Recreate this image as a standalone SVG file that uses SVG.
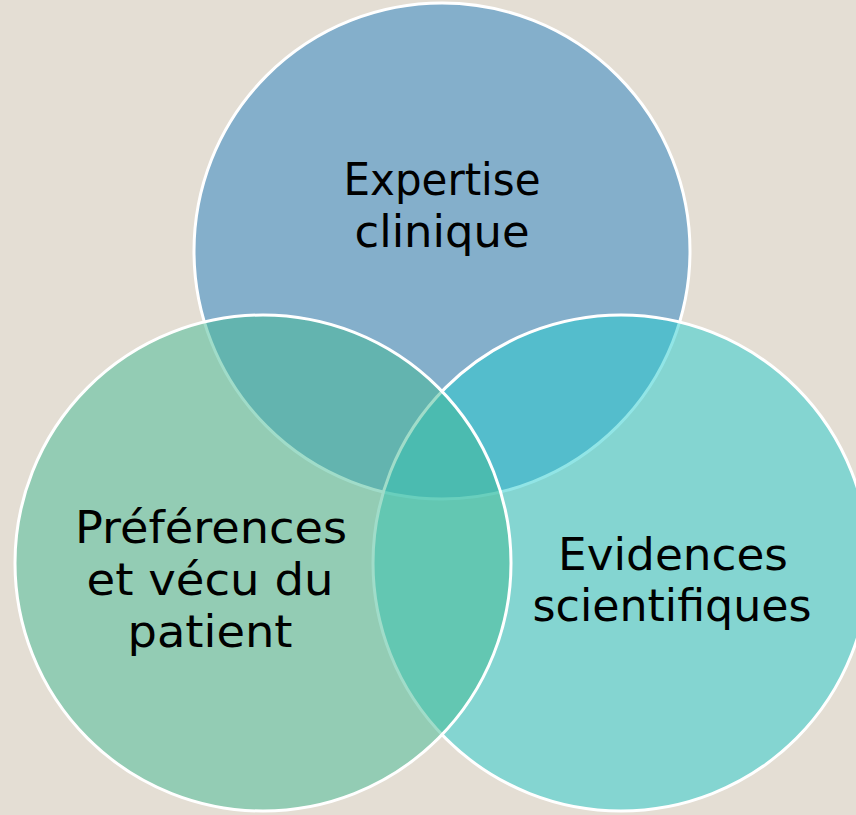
<svg xmlns="http://www.w3.org/2000/svg" width="856" height="815" viewBox="0 0 856 815">
  <style>
    .ring { stroke: #FFFFFF; stroke-width: 3; }
    .label { font-family: "DejaVu Sans", "Liberation Sans", sans-serif; font-size: 44px; fill: #000000; text-anchor: middle; }
  </style>
  <rect x="0" y="0" width="856" height="815" fill="#E4DED4"/>
  <g id="expertise">
    <circle class="ring" cx="442" cy="251" r="248" fill="rgb(36,128,194)" fill-opacity="0.5"/>
    <text class="label" x="442" y="195" textLength="197" lengthAdjust="spacingAndGlyphs">Expertise</text>
    <text class="label" x="442" y="247" textLength="175" lengthAdjust="spacingAndGlyphs">clinique</text>
  </g>
  <g id="evidences">
    <circle class="ring" cx="621" cy="563" r="248" fill="rgb(36,204,206)" fill-opacity="0.5"/>
    <text class="label" x="673" y="570" textLength="230" lengthAdjust="spacingAndGlyphs">Evidences</text>
    <text class="label" x="672" y="621" textLength="279" lengthAdjust="spacingAndGlyphs">scientifiques</text>
  </g>
  <g id="preferences">
    <circle class="ring" cx="263" cy="563" r="248" fill="rgb(66,186,148)" fill-opacity="0.5"/>
    <text class="label" x="211" y="543" textLength="272" lengthAdjust="spacingAndGlyphs">Préférences</text>
    <text class="label" x="210" y="595" textLength="247" lengthAdjust="spacingAndGlyphs">et vécu du</text>
    <text class="label" x="210" y="647" textLength="165" lengthAdjust="spacingAndGlyphs">patient</text>
  </g>
  <g id="connectors"/>
</svg>
